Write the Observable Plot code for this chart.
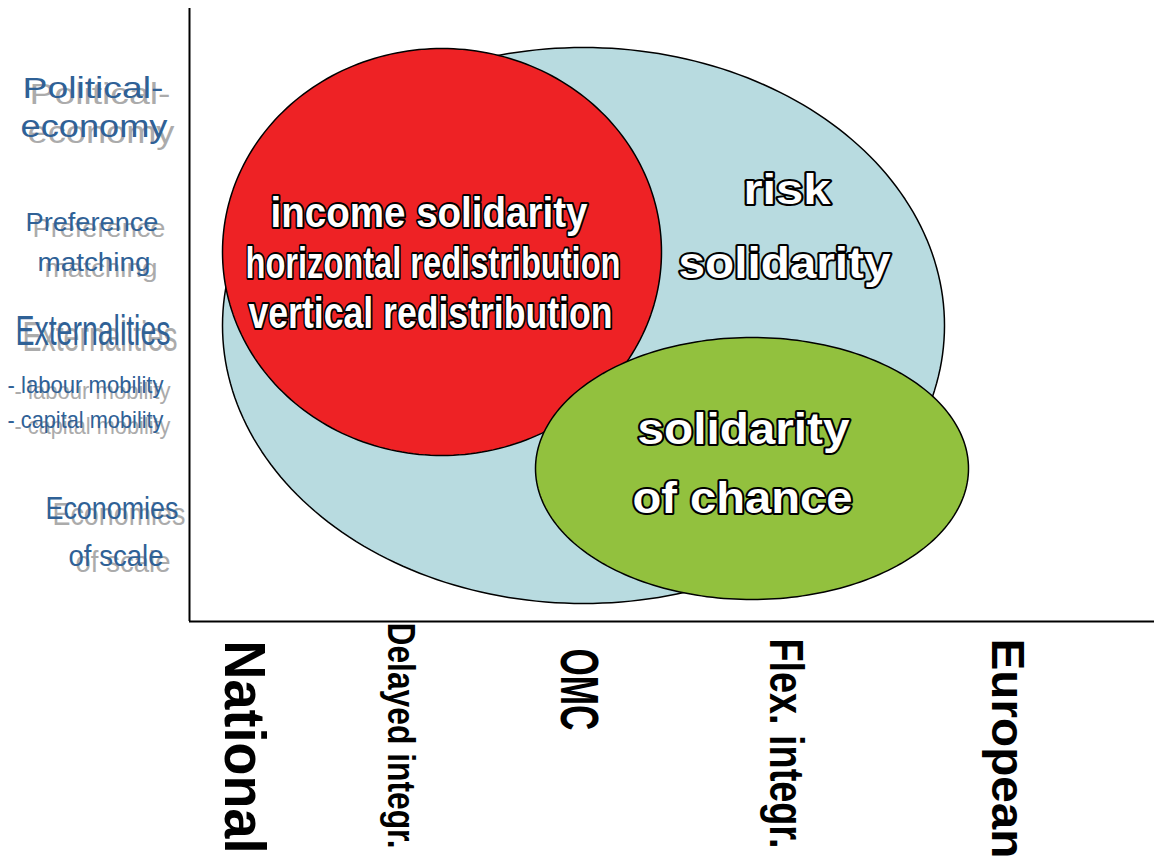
<!DOCTYPE html>
<html><head><meta charset="utf-8">
<script src="https://cdn.jsdelivr.net/npm/d3@7"></script>
<script src="https://cdn.jsdelivr.net/npm/@observablehq/plot@0.6"></script>
<style>body{margin:0;background:#fff;} #chart svg{display:block;background:#fff}</style>
</head><body><div id="chart"></div>
<script>
// ---- data ----
const regimes = ["National", "Delayed integr.", "OMC", "Flex. integr.", "European"];
const regimePos = [54, 211, 389, 596, 817];

const rationales = ["Political-", "economy", "Preference", "matching", "Externalities",
  "- labour mobility", "- capital mobility", "Economies", "of scale"];
const rationalePos = [533, 494, 399, 359, 290, 236, 201, 112, 65];

const sets = ["risk solidarity", "income solidarity", "solidarity of chance"];
const setCx = [394, 252.5, 562.5];
const setCy = [296, 369.5, 153];
const setRx = [361, 219.5, 216.5];
const setRy = [278, 203.5, 131];

const setLabels = ["income solidarity", "horizontal redistribution", "vertical redistribution",
  "risk", "solidarity", "solidarity", "of chance"];

// ---- layout / style ----
const setFill = ["#b8dbe0", "#ee2225", "#92c13e"];
const regimeTop = [-19, -1, -27, -17, -17];
const regimeFont = [58, 38, 54, 48, 46];
const rationaleLeft = [-167, -169, -164, -152, -174, -182, -182, -144, -121];
const rationaleFont = [30, 31, 25, 25, 43, 24, 24, 31, 29];
const labelX = [81, 56, 59, 554, 489, 448, 443];
const labelY = [408, 358, 308, 431, 358, 192, 123];
const labelFont = [43, 44, 44, 42, 44, 44, 44];
const textLengths = {
  "National": 213, "Delayed integr.": 226, "OMC": 82, "Flex. integr.": 210, "European": 220,
  "Political-": 141, "economy": 147, "Preference": 133, "matching": 113, "Externalities": 155,
  "- labour mobility": 156, "- capital mobility": 156, "Economies": 133, "of scale": 95,
  "income solidarity": 317, "horizontal redistribution": 375, "vertical redistribution": 364,
  "risk": 87, "solidarity": 212, "of chance": 220
};

// ellipse outlines built from centre and radii
const N = 240;
const ellipse = (i) => d3.range(N + 1).map(k => {
  const a = 2 * Math.PI * k / N;
  return {x: setCx[i] + setRx[i] * Math.cos(a), y: setCy[i] + setRy[i] * Math.sin(a)};
});

const font = "'Liberation Sans', Arial, Helvetica, sans-serif";
const narrow = "'Liberation Sans Narrow', 'Arial Narrow', 'Liberation Sans', sans-serif";
const blue = "#2f6196";
const shadow = "#ababab";
const idx9 = d3.range(rationales.length);
const idx5 = d3.range(regimes.length);
const idx7 = d3.range(setLabels.length);

const chart = Plot.plot({
  width: 1154, height: 862,
  marginLeft: 189, marginRight: 0, marginTop: 8, marginBottom: 241,
  x: {domain: [0, 965], axis: null},
  y: {domain: [0, 613], axis: null},
  marks: [
    ...[0, 1, 2].map(i => Plot.line(ellipse(i), {x: "x", y: "y", fill: setFill[i], stroke: "#000", strokeWidth: 1.5})),
    Plot.ruleX([0], {y1: 0, y2: 613, stroke: "#000", strokeWidth: 2}),
    Plot.ruleY([0], {x1: 0, x2: 965, stroke: "#000", strokeWidth: 2}),
    // set labels
    Plot.text(idx7, {x: i => labelX[i], y: i => labelY[i], text: i => setLabels[i], fontSize: i => labelFont[i],
      textAnchor: "start", fontFamily: font, fontWeight: "bold", fill: "#fff", stroke: "#000", strokeWidth: 4,
      paintOrder: "stroke", strokeLinejoin: "round"}),
    // rationale labels (shadow, then text)
    Plot.text(idx9, {x: i => rationaleLeft[i], y: i => rationalePos[i], text: i => rationales[i], fontSize: i => rationaleFont[i],
      textAnchor: "start", fontFamily: font, fill: shadow, dx: 7, dy: 6}),
    Plot.text(idx9, {x: i => rationaleLeft[i], y: i => rationalePos[i], text: i => rationales[i], fontSize: i => rationaleFont[i],
      textAnchor: "start", fontFamily: font, fill: blue}),
    // regime labels
    Plot.text(idx5, {x: i => regimePos[i], y: i => regimeTop[i], text: i => regimes[i], fontSize: i => regimeFont[i],
      rotate: 90, textAnchor: "start", fontFamily: narrow, fontWeight: "bold", fill: "#000"})
  ]
});

d3.select(chart).selectAll("text").each(function () {
  const L = textLengths[this.textContent];
  if (L) d3.select(this).attr("textLength", L).attr("lengthAdjust", "spacingAndGlyphs");
});

document.getElementById("chart").append(chart);
</script>
</body></html>
